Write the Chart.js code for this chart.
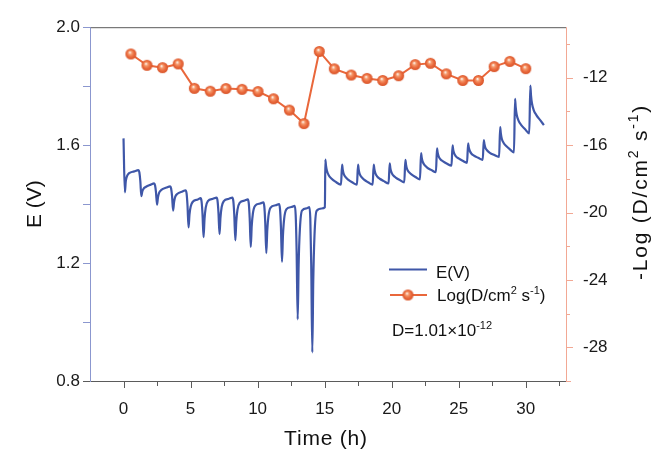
<!DOCTYPE html>
<html><head><meta charset="utf-8">
<script src="https://cdn.jsdelivr.net/npm/chart.js@4.4.1/dist/chart.umd.min.js"></script>
<style>html,body{margin:0;padding:0;background:#fff;}#wrap{width:652px;height:450px;position:relative;}</style>
</head><body><div id="wrap"><canvas id="c" width="652" height="450"></canvas></div>
<script>
// ---- data ----
const eTimeDischarge = [0.00,0.10,0.17,0.26,0.42,0.80,
  1.11,1.18,1.25,1.33,1.40,1.49,1.65,2.03,
  2.28,2.35,2.42,2.50,2.57,2.66,2.82,3.20,
  3.48,3.55,3.62,3.70,3.77,3.86,4.02,4.40,
  4.63,4.70,4.77,4.85,4.92,5.01,5.17,5.55,
  5.75,5.82,5.89,5.97,6.04,6.13,6.29,6.67,
  6.94,7.01,7.08,7.16,7.23,7.32,7.48,7.86,
  8.12,8.19,8.26,8.34,8.41,8.50,8.66,9.04,
  9.27,9.34,9.41,9.49,9.56,9.65,9.81,10.19,
  10.43,10.50,10.57,10.65,10.72,10.81,10.97,11.35,
  11.60,11.67,11.74,11.82,11.89,11.98,12.14,12.52,
  12.77,12.84,12.91,12.99,13.06,13.15,13.31,13.69,
  13.86,13.93,14.00,14.08,14.15,14.24,14.40,14.78,15.02];
const eVoltDischarge = [1.623,1.440,1.478,1.495,1.505,1.511,
  1.515,1.508,1.480,1.427,1.443,1.452,1.458,1.466,
  1.470,1.464,1.441,1.398,1.423,1.439,1.448,1.456,
  1.460,1.453,1.427,1.378,1.407,1.425,1.435,1.443,
  1.447,1.437,1.397,1.321,1.365,1.392,1.408,1.416,
  1.420,1.409,1.367,1.288,1.349,1.388,1.410,1.418,
  1.422,1.412,1.372,1.298,1.354,1.390,1.410,1.418,
  1.422,1.410,1.364,1.277,1.341,1.381,1.404,1.412,
  1.416,1.403,1.352,1.255,1.325,1.369,1.394,1.402,
  1.406,1.392,1.337,1.234,1.311,1.360,1.388,1.396,
  1.400,1.384,1.322,1.204,1.293,1.350,1.382,1.390,
  1.394,1.363,1.240,1.009,1.194,1.312,1.378,1.386,
  1.390,1.351,1.193,0.897,1.137,1.291,1.377,1.385,1.389];
const eTimeCharge = [15.05,15.10,15.17,15.30,15.50,15.80,16.22,
  16.30,16.35,16.42,16.55,16.75,17.05,17.41,
  17.49,17.54,17.61,17.74,17.94,18.24,18.58,
  18.66,18.71,18.78,18.91,19.11,19.41,19.77,
  19.85,19.90,19.97,20.10,20.30,20.60,20.94,
  21.02,21.07,21.14,21.27,21.47,21.77,22.11,
  22.19,22.24,22.31,22.44,22.64,22.94,23.30,
  23.38,23.43,23.50,23.63,23.83,24.13,24.46,
  24.54,24.59,24.66,24.79,24.99,25.29,25.62,
  25.70,25.75,25.82,25.95,26.15,26.45,26.79,
  26.87,26.92,26.99,27.12,27.32,27.62,28.01,
  28.09,28.14,28.21,28.34,28.54,28.84,29.12,
  29.20,29.25,29.32,29.45,29.65,29.95,30.26,
  30.34,30.39,30.46,30.59,30.79,31.09,31.35];
const eVoltCharge = [1.551,1.530,1.513,1.498,1.487,1.476,1.466,
  1.534,1.517,1.503,1.492,1.483,1.474,1.466,
  1.534,1.517,1.503,1.492,1.483,1.474,1.466,
  1.534,1.518,1.505,1.494,1.486,1.478,1.470,
  1.538,1.522,1.509,1.498,1.490,1.482,1.474,
  1.550,1.534,1.520,1.509,1.501,1.492,1.484,
  1.573,1.557,1.544,1.533,1.524,1.516,1.508,
  1.589,1.574,1.562,1.552,1.545,1.537,1.530,
  1.599,1.584,1.572,1.562,1.555,1.547,1.540,
  1.606,1.592,1.581,1.571,1.564,1.557,1.550,
  1.617,1.603,1.591,1.582,1.574,1.567,1.560,
  1.661,1.640,1.622,1.608,1.597,1.585,1.575,
  1.757,1.728,1.704,1.684,1.669,1.654,1.640,
  1.802,1.769,1.742,1.719,1.702,1.684,1.668];
const dTime = [0.55,1.75,2.91,4.08,5.28,6.47,7.64,8.84,10.03,11.19,12.37,13.46,14.60,15.72,16.98,18.16,19.33,20.52,21.75,22.89,24.07,25.30,26.47,27.64,28.81,30.00];
const dLog = [-10.59,-11.26,-11.40,-11.18,-12.63,-12.80,-12.64,-12.69,-12.82,-13.25,-13.92,-14.72,-10.44,-11.47,-11.84,-12.04,-12.16,-11.88,-11.22,-11.14,-11.77,-12.16,-12.16,-11.34,-11.03,-11.46];
const xMajorTicks = [0,5,10,15,20,25,30];
const xMinorTicks = [2.5,7.5,12.5,17.5,22.5,27.5,32.5];
const eMajorTicks = [0.8,1.2,1.6,2.0];
const eMinorTicks = [1.0,1.4,1.8];
const dMajorTicks = [-28,-24,-20,-16,-12];
const dMinorTicks = [-26,-22,-18,-14,-10];

// ---- styling ----
const FONT = '"Liberation Sans", Arial, Helvetica, sans-serif';
const BLUE = '#3f57a8';
const ORANGE = '#e9673b';
const LEFT_AXIS = '#8b97cf';
const RIGHT_AXIS = '#f2a894';
const FRAME = '#5b5b5b';

function makeBall(r){
  const s = Math.ceil(2*r)+2;
  const c = document.createElement('canvas');
  c.width = c.height = s;
  const g = c.getContext('2d');
  const cx = s/2, cy = s/2;
  const grad = g.createRadialGradient(cx-r*0.2, cy-r*0.3, r*0.05, cx, cy, r);
  grad.addColorStop(0, '#fff6f0');
  grad.addColorStop(0.28, '#f59a6c');
  grad.addColorStop(0.65, '#ea6a3d');
  grad.addColorStop(1, '#d8552a');
  g.fillStyle = grad;
  g.beginPath(); g.arc(cx, cy, r, 0, Math.PI*2); g.fill();
  return c;
}
const ball = makeBall(5.5);

const ePoints = eTimeDischarge.map((t,i)=>({x:t,y:eVoltDischarge[i]}))
  .concat(eTimeCharge.map((t,i)=>({x:t,y:eVoltCharge[i]})));
const dPoints = dTime.map((t,i)=>({x:t,y:dLog[i]}));

function drawRich(ctx, parts, size, supSize, supRise){
  let x = 0;
  for (const p of parts){
    ctx.font = (p.sup ? supSize : size) + 'px ' + FONT;
    ctx.fillText(p.t, x, p.sup ? -supRise : 0);
    x += ctx.measureText(p.t).width;
  }
  return x;
}
function richWidth(ctx, parts, size, supSize){
  let w = 0;
  for (const p of parts){ ctx.font = (p.sup ? supSize : size) + 'px ' + FONT; w += ctx.measureText(p.t).width; }
  return w;
}

const decor = {
  id: 'decor',
  afterDraw(chart){
    const ctx = chart.ctx;
    const a = chart.chartArea;
    const xs = chart.scales.x, ys = chart.scales.y, y2 = chart.scales.y2;
    ctx.save();
    ctx.lineWidth = 1;
    ctx.strokeStyle = FRAME;
    ctx.beginPath();
    ctx.moveTo(a.left, a.top+0.5); ctx.lineTo(a.right, a.top+0.5);
    ctx.moveTo(a.left-7, a.bottom+0.5); ctx.lineTo(a.right, a.bottom+0.5);
    ctx.stroke();
    ctx.beginPath();
    xMajorTicks.forEach(v=>{const px=Math.round(xs.getPixelForValue(v))+0.5; ctx.moveTo(px,a.bottom); ctx.lineTo(px,a.bottom+7);});
    xMinorTicks.forEach(v=>{const px=Math.round(xs.getPixelForValue(v))+0.5; ctx.moveTo(px,a.bottom); ctx.lineTo(px,a.bottom+5);});
    ctx.stroke();
    ctx.strokeStyle = LEFT_AXIS;
    ctx.beginPath();
    ctx.moveTo(a.left+0.5, a.top); ctx.lineTo(a.left+0.5, a.bottom+1);
    eMajorTicks.concat(eMinorTicks).forEach(v=>{ if (v<=0.81) return; const py=Math.round(ys.getPixelForValue(v))+0.5; ctx.moveTo(a.left-7,py); ctx.lineTo(a.left,py);});
    ctx.stroke();
    ctx.strokeStyle = RIGHT_AXIS;
    ctx.beginPath();
    ctx.moveTo(a.right+0.5, a.top); ctx.lineTo(a.right+0.5, a.bottom+1);
    dMajorTicks.forEach(v=>{const py=Math.round(y2.getPixelForValue(v))+0.5; ctx.moveTo(a.right,py); ctx.lineTo(a.right+7,py);});
    dMinorTicks.forEach(v=>{const py=Math.round(y2.getPixelForValue(v))+0.5; ctx.moveTo(a.right,py); ctx.lineTo(a.right+4,py);});
    ctx.moveTo(a.right, a.bottom+0.5); ctx.lineTo(a.right+5, a.bottom+0.5);
    ctx.stroke();

    ctx.fillStyle = '#111';
    ctx.textBaseline = 'alphabetic';
    ctx.textAlign = 'left';
    // left title
    ctx.save();
    ctx.font = '21px ' + FONT;
    const lt = 'E (V)';
    const ltw = ctx.measureText(lt).width;
    ctx.translate(41, (a.top+a.bottom)/2);
    ctx.rotate(-Math.PI/2);
    ctx.fillText(lt, -ltw/2, 0);
    ctx.restore();
    // bottom title
    ctx.save();
    ctx.font = '21px ' + FONT;
    try { ctx.letterSpacing = '0.8px'; } catch(e) {}
    const bt = 'Time (h)';
    const btw = ctx.measureText(bt).width;
    ctx.fillText(bt, 326 - btw/2, 445);
    ctx.restore();
    // right title
    const rParts = [{t:'-Log (D/cm'},{t:'2',sup:true},{t:' s'},{t:'-1',sup:true},{t:')'}];
    ctx.save();
    try { ctx.letterSpacing = '1.8px'; } catch(e) {}
    ctx.translate(647, 192);
    ctx.rotate(-Math.PI/2);
    const rw = richWidth(ctx, rParts, 21, 14);
    ctx.translate(-rw/2, 0);
    drawRich(ctx, rParts, 21, 14, 9);
    ctx.restore();

    // legend
    ctx.lineWidth = 2;
    ctx.strokeStyle = BLUE;
    ctx.beginPath(); ctx.moveTo(389, 269.5); ctx.lineTo(427, 269.5); ctx.stroke();
    ctx.strokeStyle = ORANGE;
    ctx.beginPath(); ctx.moveTo(390, 295); ctx.lineTo(427, 295); ctx.stroke();
    ctx.drawImage(ball, 408 - ball.width/2, 295 - ball.height/2);
    ctx.fillStyle = '#111';
    ctx.font = '17px ' + FONT;
    ctx.fillText('E(V)', 436, 278);
    ctx.save(); ctx.translate(437, 301);
    drawRich(ctx, [{t:'Log(D/cm'},{t:'2',sup:true},{t:' s'},{t:'-1',sup:true},{t:')'}], 17, 11, 7);
    ctx.restore();
    ctx.save(); ctx.translate(392, 336);
    drawRich(ctx, [{t:'D=1.01\u00d710'},{t:'-12',sup:true}], 17, 11, 7);
    ctx.restore();
    ctx.restore();
  }
};

new Chart(document.getElementById('c'), {
  type: 'line',
  data: {
    datasets: [
      { label: 'Log(D/cm2 s-1)', data: dPoints, yAxisID: 'y2', borderColor: ORANGE, borderWidth: 2,
        pointStyle: ball, pointRadius: 5.5, pointHoverRadius: 5.5, tension: 0 },
      { label: 'E(V)', data: ePoints, yAxisID: 'y', borderColor: BLUE, borderWidth: 2.2, pointRadius: 0,
        cubicInterpolationMode: 'monotone' }
    ]
  },
  options: {
    responsive: false, animation: false, devicePixelRatio: 1,
    layout: { padding: { top: 23, left: 0, right: 0, bottom: 0 } },
    plugins: { legend: { display: false }, tooltip: { enabled: false } },
    scales: {
      x: { type: 'linear', position: 'bottom', min: -2.5, max: 33,
        afterFit: s => { s.height = 69; },
        afterBuildTicks: s => { s.ticks = xMajorTicks.map(v => ({ value: v })); },
        grid: { display: false, drawTicks: false }, border: { display: false },
        ticks: { font: { size: 17, family: FONT }, color: '#1a1a1a', padding: 18, maxRotation: 0, autoSkip: false } },
      y: { type: 'linear', position: 'left', min: 0.8, max: 2.0,
        afterFit: s => { s.width = 90; },
        afterBuildTicks: s => { s.ticks = eMajorTicks.map(v => ({ value: v })); },
        grid: { display: false, drawTicks: false }, border: { display: false },
        ticks: { font: { size: 17, family: FONT }, color: '#1a1a1a', padding: 10, callback: v => Number(v).toFixed(1) } },
      y2: { type: 'linear', position: 'right', min: -30, max: -9,
        afterFit: s => { s.width = 86; },
        afterBuildTicks: s => { s.ticks = dMajorTicks.map(v => ({ value: v })); },
        grid: { display: false, drawTicks: false }, border: { display: false },
        ticks: { font: { size: 17, family: FONT }, color: '#1a1a1a', padding: 17, callback: v => String(v) } }
    }
  },
  plugins: [decor]
});
</script></body></html>
